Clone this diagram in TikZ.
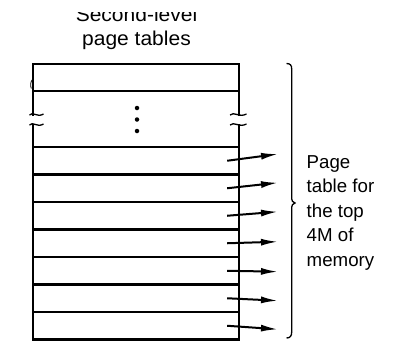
\documentclass[tikz,border=0pt]{standalone}
\usepackage{fontspec}
\setmainfont{Liberation Sans}
\usetikzlibrary{arrows.meta}
\begin{document}
\begin{tikzpicture}[x=1pt,y=-1pt,
  rowbox/.style={draw, line width=2.3pt, inner sep=0pt, minimum width=206pt, minimum height=27.5pt},
  entry/.style={line width=2pt, -{Latex[length=17pt,width=7pt]}},
  brk/.style={line width=1.3pt},
  dot/.style={circle, fill, inner sep=0pt, minimum size=4.5pt},
  title/.style={font=\fontsize{20}{23.5}\selectfont, inner sep=0pt, anchor=base, xscale=1.05},
  lbl/.style={font=\fontsize{18.7}{24.5}\selectfont, align=left, inner sep=0pt, anchor=north west},
]
\useasboundingbox (0,0) rectangle (411,346);

% heading above the table (first line cut off at its top)
\begin{scope}
  \clip (0,12.5) rectangle (411,60);
  \node[title] (t1) at (136.5,21.7) {Second-level};
\end{scope}
\node[title] (t2) at (136.5,45.2) {page tables};

% table: top entry, elided middle part, seven entries at the bottom
\node[rowbox, minimum height=27pt] (top) at (136,77.5) {};
\node[rowbox, minimum height=56pt] (mid) at (136,119) {};
\foreach \i/\y in {1/160.75,2/188.25,3/215.75,4/243.25,5/270.75,6/298.25,7/325.75}
  \node[rowbox] (r\i) at (136,\y) {};

% vertical ellipsis
\node[dot] (d1) at (137,108) {};
\node[dot] (d2) at (137,119.5) {};
\node[dot] (d3) at (137,131) {};

% break marks on both sides of the elided part
\fill[white] (29,116.2) rectangle (38,123.8);
\fill[white] (234,116.2) rectangle (243,123.8);
\foreach \y in {115,125} {
  \draw[brk] (29.5,\y) .. controls (33,\y-4) and (37,\y+3) .. (43.5,\y-1);
  \draw[brk] (230,\y) .. controls (234,\y-4) and (239,\y+3) .. (246.5,\y-1);
}
\draw[line width=0.8pt] (32.5,79.5) .. controls (30.3,81.5) and (30.3,86) .. (31.3,88.5);

% pointers out of the bottom entries
\foreach \i/\ey in {1/154,2/182.7,3/211.7,4/241.7,5/271.7,6/300.7,7/329.3} {
  \coordinate (e\i) at (278,\ey);
  \draw[entry] ([xshift=-13pt]r\i.east) -- (e\i);
}

% brace grouping the pointers
\draw[line width=1.3pt] (286.5,63.5) .. controls (290,63.5) and (291.7,65) .. (291.7,69)
  -- (291.7,197) .. controls (291.7,201) and (292.6,202.5) .. (295,203)
  .. controls (292.6,203.5) and (291.7,205) .. (291.7,209)
  -- (291.7,332) .. controls (291.7,336) and (290,338) .. (286.5,338);

\node[lbl] (lab) at (306.5,155) {Page\\table for\\the top\\4M of\\memory};
\end{tikzpicture}
\end{document}
